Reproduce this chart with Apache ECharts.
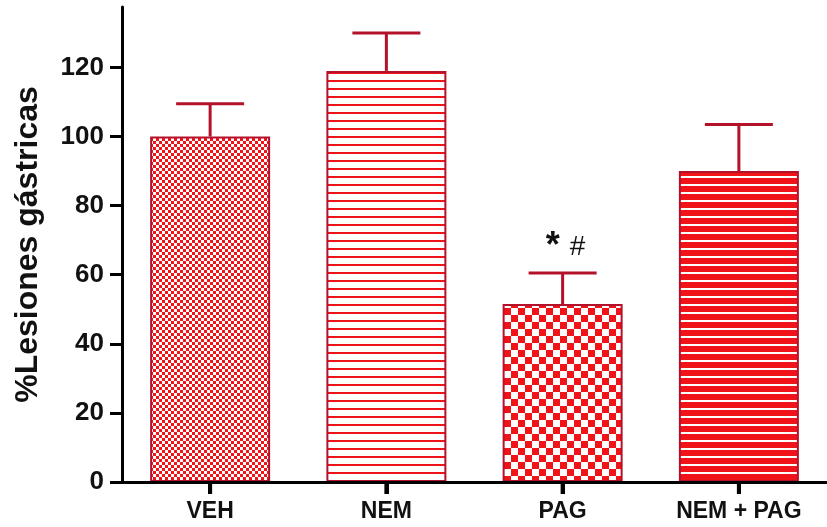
<!DOCTYPE html>
<html>
<head>
<meta charset="utf-8">
<script src="https://cdn.jsdelivr.net/npm/echarts@6/dist/echarts.min.js"></script>
<style>
  html, body { margin: 0; padding: 0; background: #fff; }
  #chart { width: 827px; height: 527px; }
</style>
</head>
<body>
<div id="chart"></div>
<script>
// Gastric lesion data (% of vehicle), mean and upper error bound
const categories = ['VEH', 'NEM', 'PAG', 'NEM + PAG'];
const means = [100, 119, 51.5, 90];
const errorTops = [109.5, 130, 60.5, 103.5];
const annotations = ['', '', '*#', ''];
const yTicks = [0, 20, 40, 60, 80, 100, 120];

const RED = '#f01418';
const EDGE = '#b3122a';
const FONT = '"Liberation Sans", Arial, sans-serif';

// Fill patterns drawn on small canvases
function makeCanvas(w, h, draw) {
  const c = document.createElement('canvas');
  c.width = w; c.height = h;
  draw(c.getContext('2d'));
  return c;
}
function checker(cell) {
  return makeCanvas(cell * 2, cell * 2, ctx => {
    ctx.fillStyle = '#fff';
    ctx.fillRect(0, 0, cell * 2, cell * 2);
    ctx.fillStyle = RED;
    ctx.fillRect(0, 0, cell, cell);
    ctx.fillRect(cell, cell, cell, cell);
  });
}
function stripes(period, line, bg, fg) {
  return makeCanvas(8, period, ctx => {
    ctx.fillStyle = bg;
    ctx.fillRect(0, 0, 8, period);
    ctx.fillStyle = fg;
    ctx.fillRect(0, 0, 8, line);
  });
}
const fills = [
  { image: checker(3), repeat: 'repeat' },
  { image: stripes(8, 2, '#fff', RED), repeat: 'repeat' },
  { image: checker(7), repeat: 'repeat' },
  { image: stripes(8, 2, RED, '#fff'), repeat: 'repeat' }
];

const chart = echarts.init(document.getElementById('chart'), null, { renderer: 'canvas' });

chart.setOption({
  animation: false,
  backgroundColor: '#fff',
  grid: { left: 122, right: -9, top: 7, bottom: 45, containLabel: false },
  xAxis: {
    type: 'category',
    data: categories,
    boundaryGap: true,
    axisLine: { show: true, onZero: false, lineStyle: { color: '#000', width: 3 } },
    axisTick: { show: true, inside: false, interval: 0, alignWithLabel: true, length: 12,
                lineStyle: { color: '#000', width: 4 } },
    axisLabel: { interval: 0, color: '#111', fontFamily: FONT, fontWeight: 'bold', fontSize: 23, margin: 18 },
    z: 5
  },
  yAxis: {
    type: 'value',
    min: 0,
    max: 137.5,
    interval: 20,
    name: '%Lesiones gástricas',
    nameLocation: 'middle',
    nameGap: 78,
    nameRotate: 90,
    nameTextStyle: { color: '#111', fontFamily: FONT, fontWeight: 'bold', fontSize: 32 },
    axisLine: { show: true, lineStyle: { color: '#000', width: 3 } },
    axisTick: { show: true, length: 12, customValues: yTicks, lineStyle: { color: '#000', width: 3 } },
    axisLabel: { customValues: yTicks, color: '#111', fontFamily: FONT, fontWeight: 'bold', fontSize: 26, margin: 18 },
    splitLine: { show: false }
  },
  series: [
    {
      type: 'bar',
      barWidth: 120,
      data: means.map((v, i) => ({
        value: v,
        itemStyle: { color: fills[i], borderColor: EDGE, borderWidth: 2 }
      })),
      z: 2
    },
    {
      // error bars and significance marks
      type: 'custom',
      z: 3,
      clip: false,
      data: means.map((m, i) => [i, m, errorTops[i]]),
      renderItem: function (params, api) {
        const i = api.value(0);
        const base = api.coord([i, api.value(1)]);
        const top = api.coord([i, api.value(2)]);
        const half = 34;
        const children = [
          { type: 'line', shape: { x1: base[0], y1: base[1], x2: top[0], y2: top[1] },
            style: { stroke: EDGE, lineWidth: 3 } },
          { type: 'line', shape: { x1: top[0] - half, y1: top[1], x2: top[0] + half, y2: top[1] },
            style: { stroke: EDGE, lineWidth: 3 } }
        ];
        const note = annotations[params.dataIndex];
        if (note) {
          children.push({
            type: 'text',
            x: top[0] + 3,
            y: top[1] - 8,
            style: {
              text: '{a|' + note.charAt(0) + '}{b|' + note.charAt(1) + '}',
              align: 'center',
              verticalAlign: 'bottom',
              rich: {
                a: { fontFamily: FONT, fontWeight: 'bold', fontSize: 36, fill: '#111', padding: [0, 10, 0, 0] },
                b: { fontFamily: FONT, fontSize: 28, fill: '#111' }
              }
            }
          });
        }
        return { type: 'group', children: children };
      }
    }
  ]
});

// Category tick marks below the x axis, placed via the chart's own scales
const tickMarks = categories.map((c, i) => {
  const p = chart.convertToPixel({ xAxisIndex: 0, yAxisIndex: 0 }, [i, 0]);
  return {
    type: 'rect',
    z: 10,
    shape: { x: p[0] - 2, y: p[1], width: 4, height: 12 },
    style: { fill: '#000' }
  };
});
chart.setOption({ graphic: tickMarks });
</script>
</body>
</html>
